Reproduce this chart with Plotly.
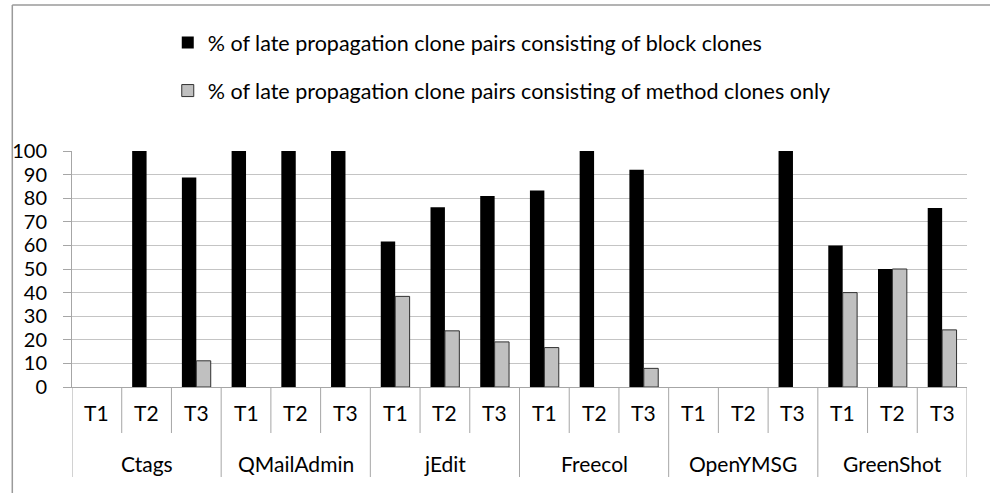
import plotly.graph_objects as go

groups = ["Ctags", "QMailAdmin", "jEdit", "Freecol", "OpenYMSG", "GreenShot"]
subcats = ["T1", "T2", "T3"]
block_pct = [0, 100, 88.8, 100, 100, 100, 61.6, 76.2, 80.9, 83.3, 100, 92.1, 0, 0, 100, 60, 50, 75.8]
method_pct = [0, 0, 11.1, 0, 0, 0, 38.4, 23.8, 19.1, 16.7, 0, 7.9, 0, 0, 0, 40, 50, 24.2]
series_names = ["% of late propagation clone pairs consisting of block clones",
                "% of late propagation clone pairs consisting of method clones only"]
y_ticks = [0, 10, 20, 30, 40, 50, 60, 70, 80, 90, 100]

FONT = "Lato"
FS = 21
n_sub = len(subcats)
n = len(groups) * n_sub
xs = list(range(n))
sub_labels = [subcats[i % n_sub] for i in xs]

fig = go.Figure()
fig.add_trace(go.Bar(x=xs, y=block_pct, name=series_names[0], legendgroup="a", offsetgroup="a",
                     marker=dict(color="#000000", line=dict(color="#000000", width=0))))
fig.add_trace(go.Bar(x=xs, y=method_pct, name=series_names[1], legendgroup="b", offsetgroup="b",
                     showlegend=False,
                     marker=dict(color="#c0c0c0",
                                 line=dict(color="#303030",
                                           width=[1 if v > 0 else 0 for v in method_pct]))))
# legend entry for the second series (outlined swatch)
fig.add_trace(go.Bar(x=[None], y=[None], name=series_names[1], legendgroup="b", offsetgroup="b",
                     showlegend=True, hoverinfo="skip",
                     marker=dict(color="#c0c0c0", line=dict(color="#303030", width=1))))

shapes = []
# category separators below the axis
for i in range(n + 1):
    xb = i - 0.5
    outer = (i % n_sub == 0)
    shapes.append(dict(type="line", xref="x", yref="paper", ysizemode="pixel", yanchor=0,
                       x0=xb, x1=xb, y0=0, y1=-90 if outer else -46,
                       line=dict(color="#a6a6a6", width=1)))
# outer chart border (left and top)
shapes.append(dict(type="line", xref="paper", yref="paper", x0=-0.0667, x1=-0.0667,
                   y0=-0.46, y1=1.6186, line=dict(color="#9a9a9a", width=1.5)))
shapes.append(dict(type="line", xref="paper", yref="paper", x0=-0.0667, x1=1.03,
                   y0=1.6186, y1=1.6186, line=dict(color="#9a9a9a", width=1.5)))

annotations = []
for i in xs:
    annotations.append(dict(x=i, y=0, xref="x", yref="paper", text=sub_labels[i], showarrow=False,
                            yanchor="middle", yshift=-25, font=dict(family=FONT, size=FS, color="#000")))
for g, name in enumerate(groups):
    annotations.append(dict(x=g * n_sub + (n_sub - 1) / 2, y=0, xref="x", yref="paper", text=name,
                            showarrow=False, yanchor="middle", yshift=-76,
                            font=dict(family=FONT, size=FS, color="#000")))

fig.update_layout(
    width=990, height=493,
    margin=dict(l=67, r=23, t=151, b=106),
    paper_bgcolor="white", plot_bgcolor="white",
    barmode="group", bargap=0.42, bargroupgap=0,
    font=dict(family=FONT, size=FS, color="#000"),
    showlegend=True,
    legend=dict(x=0.107, y=1.546, xanchor="left", yanchor="top", tracegroupgap=17,
                font=dict(family=FONT, size=21.5, color="#000"), bgcolor="rgba(0,0,0,0)"),
    shapes=shapes, annotations=annotations,
    xaxis=dict(range=[-0.5, n - 0.5], showticklabels=False, ticks="", showgrid=False,
               showline=True, linecolor="#a6a6a6", linewidth=1, zeroline=False, fixedrange=True),
    yaxis=dict(range=[0, 100], tickvals=y_ticks, ticks="outside", ticklen=8, tickcolor="#a6a6a6",
               showgrid=True, gridcolor="#c4c4c4", gridwidth=1, showline=True, linecolor="#a6a6a6",
               linewidth=1, zeroline=False, ticklabelstandoff=12,
               tickfont=dict(family=FONT, size=20, color="#000")),
)

fig.write_html("out.html", config={"displayModeBar": False},
               post_script="document.body.style.margin='0';")
